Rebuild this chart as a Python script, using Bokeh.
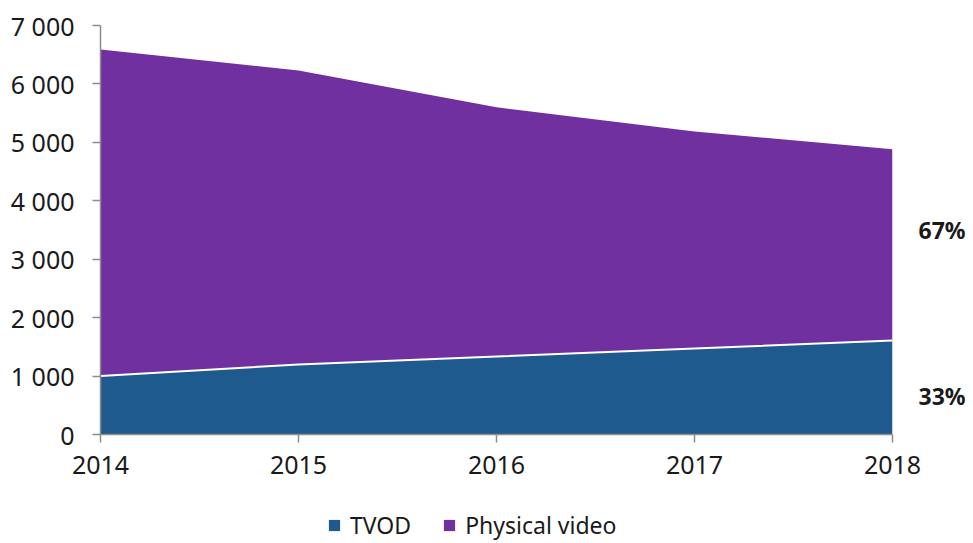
from bokeh.plotting import figure
from bokeh.layouts import column
from bokeh.models import ColumnDataSource, Legend, LegendItem, FixedTicker, Range1d, LinearAxis
from bokeh.embed import file_html
from bokeh.resources import INLINE

years = [2014, 2015, 2016, 2017, 2018]
tvod = [1000, 1200, 1335, 1470, 1610]
physical = [5590, 5030, 4265, 3715, 3270]
y_ticks = [0, 1000, 2000, 3000, 4000, 5000, 6000, 7000]
y_tick_labels = ["0", "1 000", "2 000", "3 000", "4 000", "5 000", "6 000", "7 000"]
series_names = ["TVOD", "Physical video"]
colors = ["#1F5A8F", "#7030A0"]

total = [a + b for a, b in zip(tvod, physical)]
src = ColumnDataSource(dict(year=years, tvod=tvod, physical=physical, total=total))

FONT = "Noto Sans"
TXT = "#1a1a1a"

p = figure(frame_width=792, frame_height=409, output_backend="svg", toolbar_location=None,
           x_range=Range1d(years[0], years[-1]), y_range=Range1d(0, 7000),
           min_border_left=100, min_border_right=60, min_border_top=25, min_border_bottom=60)
p.outline_line_color = None
p.xgrid.visible = False
p.ygrid.visible = False

r1 = p.varea(x="year", y1=0, y2="tvod", source=src, fill_color=colors[0])
r2 = p.varea(x="year", y1="tvod", y2="total", source=src, fill_color=colors[1])
p.line(x="year", y="tvod", source=src, line_color="white", line_width=2)

axis_col = "#8c8c8c"
p.xaxis.ticker = FixedTicker(ticks=years)
p.yaxis.ticker = FixedTicker(ticks=y_ticks)
p.yaxis.major_label_overrides = {t: l for t, l in zip(y_ticks, y_tick_labels)}
for ax in (p.xaxis, p.yaxis):
    ax.axis_line_color = axis_col
    ax.axis_line_width = 1.5
    ax.major_tick_line_color = axis_col
    ax.major_tick_line_width = 1.5
    ax.major_tick_out = 8
    ax.major_tick_in = 0
    ax.minor_tick_line_color = None
    ax.major_label_text_font = FONT
    ax.major_label_text_font_size = "25px"
    ax.major_label_text_color = TXT
p.xaxis.major_label_standoff = 13
p.yaxis.major_label_standoff = 18

# percentage labels at the right, as an unlined right axis
pct_tvod = round(tvod[-1] / total[-1] * 100)
pct_phys = 100 - pct_tvod
pos_tvod = tvod[-1] / 2 - 150
pos_phys = tvod[-1] + physical[-1] / 2 + 250
rax = LinearAxis(ticker=FixedTicker(ticks=[pos_tvod, pos_phys]),
                 major_label_overrides={pos_tvod: f"{pct_tvod}%", pos_phys: f"{pct_phys}%"},
                 axis_line_color=None, major_tick_line_color=None, minor_tick_line_color=None,
                 major_label_text_font=FONT, major_label_text_font_size="23px",
                 major_label_text_font_style="bold", major_label_text_color=TXT,
                 major_label_standoff=20)
p.add_layout(rax, "right")

# legend in a strip below the chart (series drawn out of this strip's view)
lg = figure(width=960, height=49, output_backend="svg", toolbar_location=None,
            x_range=Range1d(0, 1), y_range=Range1d(0, 1),
            min_border_left=0, min_border_right=0, min_border_top=0, min_border_bottom=0)
lg.axis.visible = False
lg.grid.visible = False
lg.outline_line_color = None
g1 = lg.varea(x="year", y1=0, y2="tvod", source=src, fill_color=colors[0])
g2 = lg.varea(x="year", y1="tvod", y2="total", source=src, fill_color=colors[1])
legend = Legend(items=[LegendItem(label=series_names[0], renderers=[g1]),
                       LegendItem(label=series_names[1], renderers=[g2])],
                orientation="horizontal", location=(227, 2),
                label_text_font=FONT, label_text_font_size="23px", label_text_color=TXT,
                glyph_width=14, glyph_height=14, spacing=31, label_standoff=9,
                border_line_color=None, background_fill_alpha=0, margin=0, padding=0)
lg.add_layout(legend)

open("out.html", "w").write(file_html(column(p, lg, spacing=0), INLINE))
